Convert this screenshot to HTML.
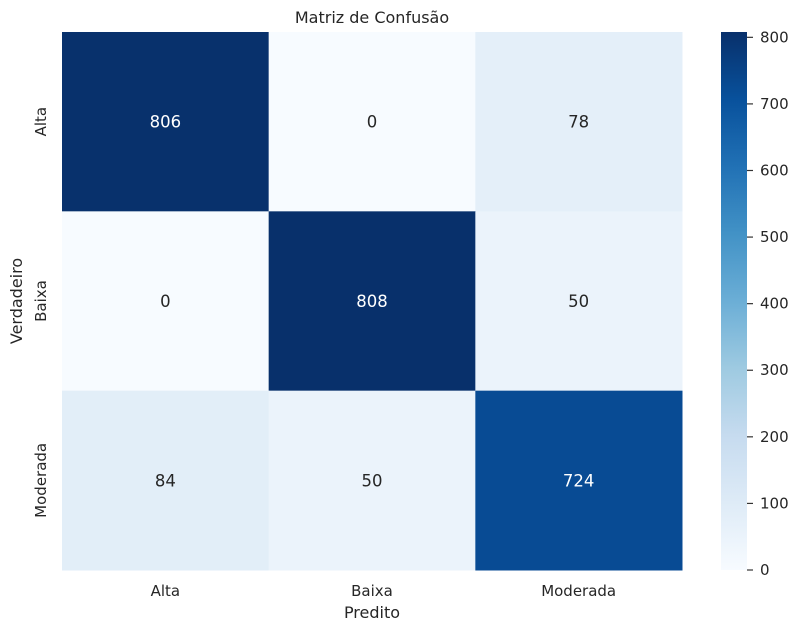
<!DOCTYPE html>
<html><head><meta charset="utf-8"><style>
body{margin:0;background:#fff;font-family:"Liberation Sans","DejaVu Sans",sans-serif;}
svg text{font-family:"DejaVu Sans","Liberation Sans",sans-serif;fill:#262626;}
</style></head><body>
<svg id="chart" width="799" height="633">
<defs><linearGradient id="blues" x1="0" y1="1" x2="0" y2="0">
<stop offset="0" stop-color="#f7fbff"/><stop offset="0.125" stop-color="#deebf7"/><stop offset="0.25" stop-color="#c6dbef"/><stop offset="0.375" stop-color="#9ecae1"/><stop offset="0.5" stop-color="#6baed6"/><stop offset="0.625" stop-color="#4292c6"/><stop offset="0.75" stop-color="#2171b5"/><stop offset="0.875" stop-color="#08519c"/><stop offset="1" stop-color="#08306b"/>
</linearGradient></defs>
<text x="372" y="23" style="font-size:16px" text-anchor="middle">Matriz de Confusão</text>
<text x="372" y="618" style="font-size:16px" text-anchor="middle">Predito</text>
<text x="22" y="301" style="font-size:16px" text-anchor="middle" transform="rotate(-90 22 301)">Verdadeiro</text>
<g id="cells"></g>
<rect x="721" y="32" width="26" height="538" fill="url(#blues)"/>
<g id="cbticks"></g>
</svg>
<script>
const labels = ["Alta","Baixa","Moderada"];
const matrix = [[806,0,78],[0,808,50],[84,50,724]];
const cbTicks = [0,100,200,300,400,500,600,700,800];
const vmin = 0, vmax = 808;
const stops = ["#f7fbff","#deebf7","#c6dbef","#9ecae1","#6baed6","#4292c6","#2171b5","#08519c","#08306b"];
function hex(c){return [1,3,5].map(i=>parseInt(c.substr(i,2),16));}
function color(v){let t=(v-vmin)/(vmax-vmin)*(stops.length-1);let i=Math.min(Math.floor(t),stops.length-2);let f=t-i;const a=hex(stops[i]),b=hex(stops[i+1]);return "rgb("+a.map((x,k)=>Math.round(x+(b[k]-x)*f)).join(",")+")";}
const X0=62,Y0=32,W=620,H=538,cw=W/labels.length,ch=H/labels.length;
const ns="http://www.w3.org/2000/svg";
const g=document.getElementById("cells");
function mk(tag,attrs,parent){const e=document.createElementNS(ns,tag);for(const k in attrs)e.setAttribute(k,attrs[k]);parent.appendChild(e);return e;}
matrix.forEach((row,r)=>row.forEach((v,c)=>{
 const rect=mk("rect",{x:X0+c*cw,y:Y0+r*ch,width:cw+0.5,height:ch+0.5,fill:color(v)},g);
 
 
 const t=mk("text",{x:X0+(c+0.5)*cw,y:Y0+(r+0.5)*ch+6,"text-anchor":"middle"},g);
 t.style.fontSize="16.5px";
 t.style.fill=(v-vmin)/(vmax-vmin)>0.5?"#fff":"#262626";
 t.textContent=v;
 
 
}));
labels.forEach((l,i)=>{
 const t=mk("text",{x:X0+(i+0.5)*cw,y:596,"text-anchor":"middle"},g);
 t.style.fontSize="15px";
 t.textContent=l;
 
 
 const yy=Y0+(i+0.5)*ch;
 const t2=mk("text",{x:46,y:yy,"text-anchor":"middle",transform:"rotate(-90 46 "+yy+")"},g);
 t2.style.fontSize="15px";
 t2.textContent=l;
 
 
});
const cb=document.getElementById("cbticks");
cbTicks.forEach(v=>{
 const y=570-(v-vmin)/(vmax-vmin)*538;
 const ln=mk("line",{x1:747,x2:753,y1:y,y2:y,stroke:"#333","stroke-width":1.2},cb);
 
 
 const t=mk("text",{x:760,y:y+5},cb);
 t.style.fontSize="15px";
 t.textContent=v;
 
 
});
</script>
</body></html>
